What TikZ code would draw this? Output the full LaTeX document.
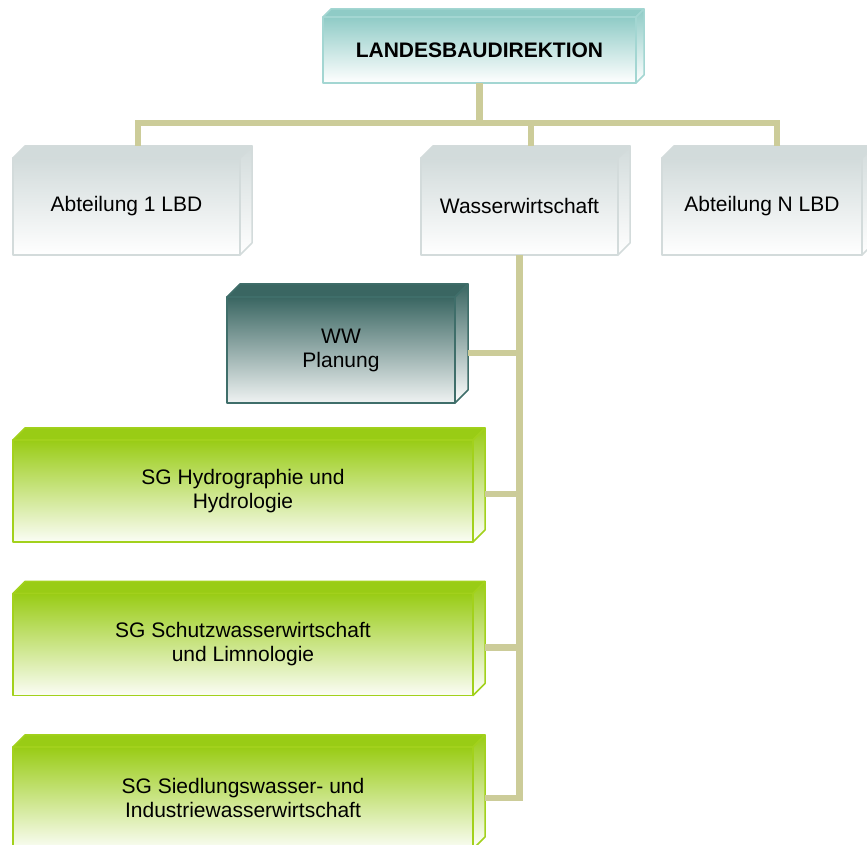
\documentclass[tikz,border=0pt]{standalone}
\usepackage{fontspec}
\setmainfont{Liberation Sans}
\usetikzlibrary{calc}

\definecolor{tealtop}{HTML}{8FCBC6}
\definecolor{tealline}{HTML}{A3D6D2}
\definecolor{graytop}{HTML}{D2DBDB}
\definecolor{grayline}{HTML}{D3DBDB}
\definecolor{darktop}{HTML}{3A6662}
\definecolor{darkline}{HTML}{3F6E6A}
\definecolor{greentop}{HTML}{99CC15}
\definecolor{greenline}{HTML}{A2D11C}
\definecolor{connline}{HTML}{CCCC99}

\tikzset{
  cube/.style={rectangle, inner sep=0pt, outer sep=0pt, align=center, line width=1.5pt,
    font=\fontsize{21}{24}\selectfont},
  topbox/.style={cube, draw=tealline, top color=tealtop, bottom color=white,
    font=\bfseries\fontsize{21}{24}\selectfont},
  graybox/.style={cube, draw=grayline, top color=graytop, bottom color=white},
  darkbox/.style={cube, draw=darkline, top color=darktop, bottom color=white!92!darktop},
  greenbox/.style={cube, draw=greenline, top color=greentop, bottom color=white!96!greentop},
  conn/.style={draw=connline, line width=6.5pt, line join=miter},
}

\begin{document}
\begin{tikzpicture}[x=1pt, y=1pt, line join=round]
  \useasboundingbox (0,0) rectangle (867,845);

  % front faces
  \node[topbox, minimum width=313pt, minimum height=66pt] (lbd) at (479.5,795) {LANDESBAUDIREKTION};
  \node[graybox, minimum width=227pt, minimum height=97pt] (abt1) at (126.5,638.5) {Abteilung 1 LBD};
  \node[graybox, minimum width=197pt, minimum height=97pt] (ww) at (519.5,638.5) {Wasserwirtschaft};
  \node[graybox, minimum width=200pt, minimum height=97pt] (abtn) at (762,638.5) {Abteilung N LBD};
  \node[darkbox, minimum width=228pt, minimum height=106pt] (plan) at (341,495) {WW\\Planung};
  \node[greenbox, minimum width=460pt, minimum height=102pt] (hyd) at (243,354) {SG Hydrographie und\\Hydrologie};
  \node[greenbox, minimum width=460pt, minimum height=102pt] (schutz) at (243,200.5) {SG Schutzwasserwirtschaft\\und Limnologie};
  \node[greenbox, minimum width=460pt, minimum height=102pt] (sied) at (243,47) {SG Siedlungswasser- und\\Industriewasserwirtschaft};

  % top and side faces
  \foreach \bx/\col/\lin/\dep in {lbd/tealtop/tealline/8, abt1/graytop/grayline/12,
      ww/graytop/grayline/12, abtn/graytop/grayline/12, plan/darktop/darkline/13,
      hyd/greentop/greenline/12, schutz/greentop/greenline/12, sied/greentop/greenline/12} {
    \filldraw[fill=\col, draw=\lin, line width=1.5pt]
      (\bx.north west) -- ++(\dep,\dep) -- ($(\bx.north east)+(\dep,\dep)$) -- (\bx.north east) -- cycle;
    \draw[draw=\lin, top color=\col, bottom color=white, line width=1.5pt]
      (\bx.north east) -- ++(\dep,\dep) -- ($(\bx.south east)+(\dep,\dep)$) -- (\bx.south east) -- cycle;
  }

  % connectors
  \coordinate (bus) at ($(lbd.south)+(0,-40)$);
  \draw[conn] (lbd.south) -- (bus);
  \draw[conn] ([shift={(11.5,12)}]abt1.north) |- (bus) -| ([shift={(15,12)}]abtn.north);
  \draw[conn] ([shift={(11.5,12)}]ww.north) |- (bus);
  \draw[conn] (ww.south) |- ([xshift=12]sied.east);
  \foreach \bx/\dep in {plan/13, hyd/12, schutz/12}
    \draw[conn] ([shift={(\dep,-3)}]\bx.east) -- ([yshift=-3]\bx.east -| ww.south);
\end{tikzpicture}
\end{document}
